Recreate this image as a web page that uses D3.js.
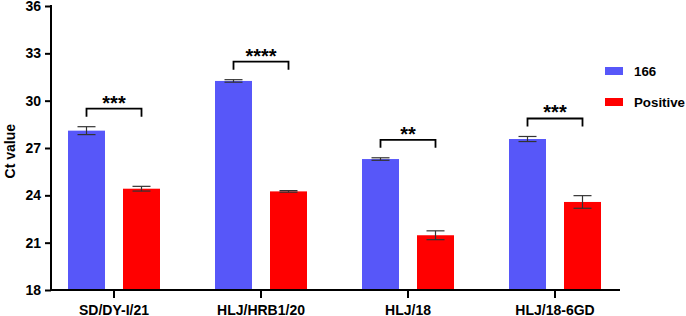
<!DOCTYPE html>
<html>
<head>
<meta charset="utf-8">
<script src="https://cdn.jsdelivr.net/npm/d3@7"></script>
<style>
  body { margin: 0; background: #fff; }
  text { font-family: "Liberation Sans", Arial, sans-serif; font-weight: bold; fill: #000; }
</style>
</head>
<body>
<div id="graph"></div>
<script>
// data
const strains = ['SD/DY-I/21', 'HLJ/HRB1/20', 'HLJ/18', 'HLJ/18-6GD'];
const series = ['166', 'Positive'];
const ct166 = [28.1, 31.25, 26.3, 27.57];
const err166 = [0.25, 0.08, 0.08, 0.16];
const ctPos = [24.42, 24.25, 21.47, 23.58];
const errPos = [0.15, 0.05, 0.28, 0.4];
const stars = ['***', '****', '**', '***'];
const yTicks = [18, 21, 24, 27, 30, 33, 36];
const colors = ['#5757F9', '#FF0000'];

const W = 686, H = 316;
const svg = d3.select('#graph').append('svg')
  .attr('width', W).attr('height', H);

const x = d3.scaleBand().domain(strains).range([40.5, 628.5]);
const y = d3.scaleLinear().domain([18, 36]).range([290, 6]);
const barW = 37, off = 27.5;

const rows = strains.map((s, i) => ({
  s, vals: [ct166[i], ctPos[i]], errs: [err166[i], errPos[i]], star: stars[i]
}));

const g = svg.selectAll('g.grp').data(rows).enter().append('g')
  .attr('transform', d => `translate(${x(d.s) + x.bandwidth() / 2},0)`);

// bars
g.selectAll('rect').data(d => d.vals.map((v, j) => ({v, j, e: d.errs[j]})))
  .enter().append('rect')
  .attr('x', d => (d.j === 0 ? -off : off) - barW / 2)
  .attr('width', barW)
  .attr('y', d => y(d.v))
  .attr('height', d => y(18) - y(d.v))
  .attr('fill', d => colors[d.j]);

// error bars
const eb = g.selectAll('g.err').data(d => d.vals.map((v, j) => ({v, j, e: d.errs[j]})))
  .enter().append('g')
  .attr('stroke', '#333').attr('stroke-width', 1.2);
eb.append('line')
  .attr('x1', d => d.j === 0 ? -off : off).attr('x2', d => d.j === 0 ? -off : off)
  .attr('y1', d => y(d.v + d.e)).attr('y2', d => y(d.v - d.e));
eb.append('line')
  .attr('x1', d => (d.j === 0 ? -off : off) - 9).attr('x2', d => (d.j === 0 ? -off : off) + 9)
  .attr('y1', d => y(d.v + d.e)).attr('y2', d => y(d.v + d.e));
eb.append('line')
  .attr('x1', d => (d.j === 0 ? -off : off) - 9).attr('x2', d => (d.j === 0 ? -off : off) + 9)
  .attr('y1', d => y(d.v - d.e)).attr('y2', d => y(d.v - d.e));

// significance brackets
const errTop = d => Math.min(y(d.vals[0] + d.errs[0]), y(d.vals[1] + d.errs[1]));
g.append('path')
  .attr('fill', 'none').attr('stroke', '#000').attr('stroke-width', 1.8)
  .attr('d', d => {
    const b = errTop(d) - 10, t = b - 8;
    return `M${-off},${b}V${t}H${off}V${b}`;
  });
g.append('text')
  .attr('text-anchor', 'middle')
  .attr('font-size', 20)
  .attr('y', d => errTop(d) - 17)
  .text(d => d.star);

// axes
const yAxis = svg.append('g').attr('transform', 'translate(51,0)')
  .call(d3.axisLeft(y).tickValues(yTicks).tickSize(6).tickPadding(4));
yAxis.select('.domain').remove();
yAxis.selectAll('line').attr('stroke-width', 2);
yAxis.selectAll('text').attr('font-size', 14).attr('font-family', '"Liberation Sans", Arial, sans-serif');
svg.append('line').attr('x1', 51).attr('x2', 51).attr('y1', 5).attr('y2', 291)
  .attr('stroke', '#000').attr('stroke-width', 2);

const xAxis = svg.append('g').attr('transform', 'translate(0,290)')
  .call(d3.axisBottom(x).tickSize(8).tickPadding(7));
xAxis.select('.domain').remove();
xAxis.selectAll('line').attr('stroke-width', 2);
xAxis.selectAll('text').attr('font-size', 14).attr('font-family', '"Liberation Sans", Arial, sans-serif');
svg.append('line').attr('x1', 50).attr('x2', 620).attr('y1', 290).attr('y2', 290)
  .attr('stroke', '#000').attr('stroke-width', 2);

svg.append('text')
  .attr('transform', `translate(15,${y(26.8)}) rotate(-90)`)
  .attr('text-anchor', 'middle')
  .attr('font-size', 14)
  .text('Ct value');

// legend
const lg = svg.selectAll('g.leg').data(series).enter().append('g')
  .attr('transform', (d, i) => `translate(605,${67 + i * 31})`);
lg.append('rect').attr('width', 18).attr('height', 8).attr('fill', (d, i) => colors[i]);
lg.append('text').attr('x', 29).attr('y', 4).attr('dy', '0.35em')
  .attr('font-size', 13.3).text(d => d);
</script>
</body>
</html>
